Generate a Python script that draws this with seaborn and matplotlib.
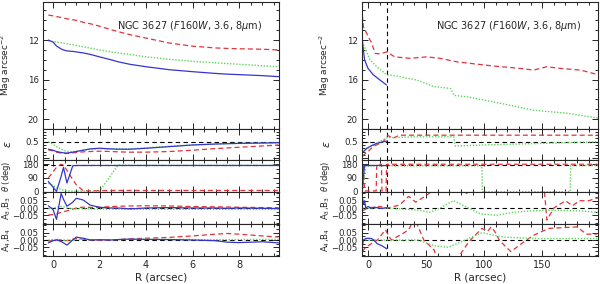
import numpy as np
import pandas as pd
import matplotlib
matplotlib.use("Agg")
import matplotlib.pyplot as plt
from matplotlib.ticker import MultipleLocator, FixedLocator
import seaborn as sns

# ---------------- data: left panel (inner region) ----------------
R_L = [-0.2, 0.0, 0.15, 0.35, 0.45, 0.6, 0.85, 1.0, 1.3, 1.6, 2.0, 2.5, 2.8, 3.3,
       4.0, 5.0, 6.0, 7.0, 7.5, 8.0, 9.0, 9.7]
mag_blue_L = [12.0, 12.2, 12.6, 12.9, 13.0, 13.1, 13.15, 13.2, 13.3, 13.45, 13.7, 14.0,
              14.2, 14.45, 14.7, 15.0, 15.2, 15.38, 15.45, 15.5, 15.6, 15.7]
mag_red_L = [9.47, 9.55, 9.62, 9.72, 9.77, 9.85, 9.95, 10.0, 10.2, 10.35, 10.6, 10.95,
             11.15, 11.45, 11.8, 12.3, 12.62, 12.8, 12.85, 12.88, 12.93, 13.0]
mag_green_L = [12.1, 12.15, 12.2, 12.28, 12.32, 12.38, 12.48, 12.55, 12.68, 12.82, 13.0,
               13.2, 13.3, 13.45, 13.7, 13.95, 14.15, 14.3, 14.38, 14.45, 14.6, 14.7]
eps_blue_L = [0.27, 0.24, 0.2, 0.17, 0.16, 0.15, 0.18, 0.2, 0.24, 0.28, 0.3, 0.28, 0.27,
              0.27, 0.3, 0.35, 0.4, 0.43, 0.44, 0.45, 0.46, 0.47]
eps_red_L = [0.25, 0.22, 0.18, 0.15, 0.14, 0.14, 0.16, 0.17, 0.19, 0.2, 0.21, 0.2, 0.19,
             0.18, 0.18, 0.2, 0.24, 0.29, 0.31, 0.33, 0.37, 0.4]
eps_green_L = [0.5, 0.42, 0.35, 0.27, 0.24, 0.2, 0.2, 0.21, 0.24, 0.27, 0.29, 0.28, 0.28,
               0.28, 0.31, 0.36, 0.4, 0.43, 0.44, 0.45, 0.46, 0.47]
pa_blue_L = [67, 30, 2, 100, 159, 57, 170, 172, 172, 172, 172, 172, 172, 172, 172, 172,
             172, 172, 172, 172, 172, 172]
pa_red_L = [90, 130, 160, 180, 175, 140, 80, 45, 6, 6, 7, 8, 8, 8, 8, 8, 8, 8, 8, 8, 8, 8]
pa_green_L = [55, 40, 28, 15, 10, 6, 3, 3, 3, 3, 3, 110, 175, 173, 173, 173, 173, 173, 173,
              173, 173, 173]
a3_blue_L = [0.014, -0.01, -0.078, 0.10, 0.06, 0.012, 0.04, 0.067, 0.055, 0.02, 0.005,
             0.0, 0.0, -0.006, 0.0, 0.003, 0.0, 0.0, -0.002, 0.0, -0.002, -0.004]
a3_red_L = [-0.048, -0.045, -0.04, -0.03, -0.025, -0.02, -0.008, 0.0, 0.006, 0.004,
            0.004, 0.01, 0.012, 0.014, 0.015, 0.014, 0.01, 0.008, 0.007, 0.005, 0.003, 0.002]
a3_green_L = [-0.005, 0.0, 0.005, 0.01, 0.008, 0.0, -0.005, -0.005, -0.006, -0.006,
              -0.007, -0.007, -0.008, -0.008, -0.008, -0.009, -0.009, -0.009, -0.01,
              -0.01, -0.01, -0.01]
a4_blue_L = [-0.02, -0.005, 0.0, -0.01, -0.02, -0.035, 0.0, 0.02, 0.012, 0.0, 0.002, 0.0,
             0.003, 0.006, 0.004, 0.003, 0.0, -0.005, -0.015, -0.018, -0.012, -0.02]
a4_red_L = [-0.01, 0.0, 0.003, 0.0, -0.003, -0.005, 0.005, 0.01, 0.005, 0.0, -0.003, 0.0,
            0.003, 0.008, 0.012, 0.018, 0.028, 0.04, 0.045, 0.04, 0.028, 0.02]
a4_green_L = [0.0, 0.002, 0.004, 0.003, 0.0, -0.002, 0.0, 0.003, 0.004, 0.003, 0.002,
              0.002, 0.003, 0.004, 0.005, 0.004, 0.003, 0.002, 0.002, 0.003, 0.004, 0.004]

# ---------------- data: right panel (full extent) ----------------
R_mag_red_R = [-5, -4, 1.7, 3.2, 6, 10.3, 16, 23, 36, 50.6, 62, 76.4, 88, 108, 131,
               142.5, 154, 165.5, 183, 198]
mag_red_R = [9.47, 10.65, 12.0, 12.3, 13.35, 13.4, 13.2, 13.7, 13.85, 13.7, 13.85, 14.2,
             14.36, 14.63, 14.87, 15.04, 14.7, 14.87, 15.04, 15.5]
R_mag_green_R = [-5, 1.7, 7.5, 16, 27, 42, 56.6, 71, 74, 85, 114, 142.5, 171, 198]
mag_green_R = [12.17, 14.0, 14.7, 15.5, 15.7, 16.05, 16.7, 16.9, 17.6, 17.74, 18.4,
               19.1, 19.4, 19.9]
R_mag_blue_R = [-5, -3, 0, 4.4, 10.3, 16]
mag_blue_R = [12.0, 14.0, 14.87, 15.5, 16.05, 16.55]

R_eps_blue_R = [-5, -4, -1, 3, 7.5, 12, 16]
eps_blue_R = [0.17, 0.19, 0.3, 0.38, 0.45, 0.49, 0.52]
R_eps_red_R = [-5, -4, 0, 4.4, 9, 13, 17, 21, 27, 60, 120, 198]
eps_red_R = [0.05, 0.09, 0.2, 0.35, 0.43, 0.5, 0.7, 0.6, 0.7, 0.7, 0.7, 0.7]
R_eps_green_R = [-5, 0, 7.5, 16, 40, 74, 75, 100, 150, 198]
eps_green_R = [0.2, 0.3, 0.45, 0.62, 0.65, 0.65, 0.37, 0.4, 0.45, 0.5]

R_pa_blue_R = [-5, -4, -3, 16]
pa_blue_R = [5, 100, 172, 172]
R_pa_red_R = [-5, -4, -3, 7, 7.5, 11.5, 12, 15.5, 16, 198]
pa_red_R = [90, 180, 5, 5, 180, 180, 5, 5, 180, 180]
R_pa_green_R = [-5, -2, 16, 98, 98.5, 174, 174.5, 198]
pa_green_R = [0, 170, 170, 170, 0, 0, 172, 172]

R_a3_blue_R = [-5, -4, -3, -2, 0, 3, 6, 9, 12, 16]
a3_blue_R = [0.08, 0.03, 0.05, 0.0, 0.01, 0.0, 0.005, 0.0, -0.003, 0.002]
R_a3_red_R = [-5, 0, 10, 17, 27, 35, 41, 49, 61, 70, 85, 90, 100, 151, 154, 160, 170,
              176, 182, 190, 198]
a3_red_R = [-0.02, 0.0, 0.01, 0.0, 0.02, 0.08, 0.04, 0.08, 0.15, 0.2, 0.1, 0.15, 0.2,
            0.2, -0.083, 0.0, 0.05, 0.015, 0.05, 0.05, 0.07]
R_a3_green_R = [-5, 16, 43, 53, 62, 73.5, 76.4, 96.5, 111, 125, 140, 155, 183, 198]
a3_green_R = [0.0, 0.0, -0.014, -0.03, 0.0, 0.05, 0.04, -0.04, -0.05, -0.03, -0.02,
              -0.015, -0.02, -0.03]

R_a4_blue_R = [-5, -4, -2, 0, 3, 5, 8, 12, 16]
a4_blue_R = [-0.05, 0.0, 0.01, 0.012, 0.01, 0.0, -0.026, -0.04, -0.06]
R_a4_red_R = [-5, -2, 8, 15, 17, 20, 29, 35, 40, 48, 57, 60, 75, 87, 98, 103, 106, 109,
              113, 119, 123, 133, 142, 150, 156, 180, 188, 197]
a4_red_R = [-0.08, -0.05, 0.0, 0.07, 0.04, 0.0, 0.04, 0.07, 0.15, 0.0, -0.07, -0.15,
            -0.15, -0.01, 0.08, 0.06, 0.09, 0.06, 0.0, -0.05, -0.08, -0.02, 0.03, 0.06,
            0.08, 0.09, 0.04, 0.04]
R_a4_green_R = [-5, 16, 43, 57, 69, 78, 98, 104, 116, 145, 198]
a4_green_R = [0.0, 0.0, 0.0, -0.04, -0.05, -0.02, 0.05, 0.04, 0.02, 0.01, 0.01]

R_break = 16
pa_ref = 173

title = r"NGC 3627 ($\it{F160W}$, 3.6, 8$\mu$m)"
ylabels = [r"Mag arcsec$^{-2}$", r"$\epsilon$", r"$\theta$ (deg)", r"A$_3$,B$_3$",
           r"A$_4$,B$_4$"]
xlabel = "R (arcsec)"

# ---------------- style ----------------
sns.set_style("ticks")
plt.rcParams["font.family"] = ["DejaVu Sans"]
plt.rcParams["mathtext.fontset"] = "dejavusans"

BLUE = "#3535cc"
RED = "#e0343c"
GREEN = "#5ad65a"

fig = plt.figure(figsize=(6.0, 2.84), dpi=100)

H = 284.0
rows_px = [(2, 129), (129, 160), (160, 192), (192, 224), (224, 256)]
cols_px = [(43, 279), (362, 598)]


def rect(c, r):
    x0, x1 = cols_px[c]
    y0, y1 = rows_px[r]
    return [x0 / 600.0, 1 - y1 / H, (x1 - x0) / 600.0, (y1 - y0) / H]


def draw(ax, x, y, kind):
    if kind == "b":
        sns.lineplot(x=x, y=y, ax=ax, color=BLUE, lw=0.9, estimator=None, sort=False)
    elif kind == "r":
        sns.lineplot(x=x, y=y, ax=ax, color=RED, lw=0.9, estimator=None, sort=False,
                     linestyle=(0, (4, 2.5)))
    else:
        sns.lineplot(x=x, y=y, ax=ax, color=GREEN, lw=1.0, estimator=None, sort=False,
                     linestyle=(0, (1, 1.2)))


ylims = [(21.0, 8.15), (-0.06, 0.89), (-2, 208), (-0.11, 0.11), (-0.11, 0.11)]
ymaj = [[12, 16, 20], [0.0, 0.5], [0, 90, 180], [-0.05, 0.0, 0.05], [-0.05, 0.0, 0.05]]
ymin = [1, 0.1, 30, 0.025, 0.025]
yfmt = [lambda v: f"{v:g}", lambda v: f"{v:.1f}", lambda v: f"{v:g}",
        lambda v: f"{v:.2f}".replace("-", "\u2212"), lambda v: f"{v:.2f}".replace("-", "\u2212")]
ylab_size = [6.5, 8, 6, 6.2, 6.2]

left_series = [
    [(R_L, mag_red_L, "r"), (R_L, mag_green_L, "g"), (R_L, mag_blue_L, "b")],
    [(R_L, eps_red_L, "r"), (R_L, eps_green_L, "g"), (R_L, eps_blue_L, "b")],
    [(R_L, pa_red_L, "r"), (R_L, pa_green_L, "g"), (R_L, pa_blue_L, "b")],
    [(R_L, a3_red_L, "r"), (R_L, a3_green_L, "g"), (R_L, a3_blue_L, "b")],
    [(R_L, a4_red_L, "r"), (R_L, a4_green_L, "g"), (R_L, a4_blue_L, "b")],
]
right_series = [
    [(R_mag_red_R, mag_red_R, "r"), (R_mag_green_R, mag_green_R, "g"),
     (R_mag_blue_R, mag_blue_R, "b")],
    [(R_eps_red_R, eps_red_R, "r"), (R_eps_green_R, eps_green_R, "g"),
     (R_eps_blue_R, eps_blue_R, "b")],
    [(R_pa_red_R, pa_red_R, "r"), (R_pa_green_R, pa_green_R, "g"),
     (R_pa_blue_R, pa_blue_R, "b")],
    [(R_a3_red_R, a3_red_R, "r"), (R_a3_green_R, a3_green_R, "g"),
     (R_a3_blue_R, a3_blue_R, "b")],
    [(R_a4_red_R, a4_red_R, "r"), (R_a4_green_R, a4_green_R, "g"),
     (R_a4_blue_R, a4_blue_R, "b")],
]
ref_lines = [None, 0.5, pa_ref, 0.0, 0.0]

for c, (series, xlim, xmaj, xmin) in enumerate([
        (left_series, (-0.43, 9.72), 2, 0.5),
        (right_series, (-5.2, 198), 50, 10)]):
    for r in range(5):
        ax = fig.add_axes(rect(c, r))
        for x, y, k in series[r]:
            draw(ax, x, y, k)
        if ref_lines[r] is not None:
            ax.axhline(ref_lines[r], color="k", lw=0.8, ls=(0, (4, 3)), zorder=1)
        if c == 1:
            ax.axvline(R_break, color="k", lw=0.8, ls=(0, (4, 3)), zorder=1)
        ax.set_xlim(*xlim)
        ax.set_ylim(*ylims[r])
        ax.xaxis.set_major_locator(MultipleLocator(xmaj))
        ax.xaxis.set_minor_locator(MultipleLocator(xmin))
        ax.yaxis.set_major_locator(FixedLocator(ymaj[r]))
        ax.yaxis.set_minor_locator(MultipleLocator(ymin[r]))
        f = yfmt[r]
        ax.set_yticklabels([f(v) for v in ymaj[r]])
        ax.tick_params(which="both", direction="in", top=True, right=True,
                       labelsize=6.2, width=0.7, pad=3)
        ax.tick_params(which="major", length=4)
        ax.tick_params(which="minor", length=2)
        for s in ax.spines.values():
            s.set_linewidth(0.8)
        ax.set_ylabel(ylabels[r], fontsize=ylab_size[r], labelpad=2)
        ax.yaxis.set_label_coords(-0.127, 0.5)
        if r < 4:
            ax.tick_params(labelbottom=False)
            ax.set_xlabel("")
        else:
            ax.tick_params(axis="x", labelsize=7)
            ax.set_xlabel(xlabel, fontsize=7.5, labelpad=2)
        if r == 0:
            ax.text(0.62, 0.81, title, transform=ax.transAxes, ha="center",
                    va="center", fontsize=7)

fig.savefig("out.png", dpi=100)
